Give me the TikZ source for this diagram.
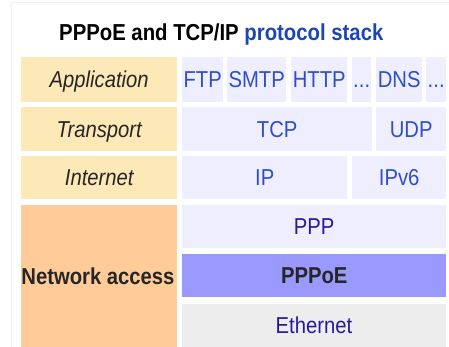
\documentclass[tikz,border=0pt]{standalone}
\usepackage{fontspec}
\setmainfont[FakeStretch=0.88]{Liberation Sans}
\definecolor{layerA}{HTML}{FDE9B8}
\definecolor{layerN}{HTML}{FFCB98}
\definecolor{protoBg}{HTML}{EEEEFE}
\definecolor{pppoeBg}{HTML}{9999FE}
\definecolor{ethBg}{HTML}{EDEDED}
\definecolor{linkBlue}{HTML}{2F4FC8}
\definecolor{visited}{HTML}{2A1A9A}
\definecolor{titleBlue}{HTML}{1C46B4}
\definecolor{frameGray}{HTML}{F2F2F2}
\newcommand{\cellfont}{\fontsize{23}{27}\selectfont}
\tikzset{
  cell/.style={inner sep=0pt, text height=16.5pt, text depth=0pt, font=\cellfont},
  layer/.style={cell, fill=layerA, text=black!85, font=\cellfont\itshape},
  proto/.style={cell, fill=protoBg, text=linkBlue},
}
% box from left/top/right/bottom in px (y measured downward)
\newcommand{\cellbox}[7]{%
  \node[#1, minimum width=#4pt-#2pt, minimum height=#5pt-#3pt, anchor=north west]
    (#6) at (#2pt,-#3pt) {#7};}
\newcommand{\dotrow}{.\kern0.2pt.\kern0.2pt.}
\begin{document}
\begin{tikzpicture}[x=1pt,y=1pt]
\useasboundingbox (0,0) rectangle (449pt,-347pt);
\begin{scope}
\clip (0,0) rectangle (449pt,-347pt);
% faint table frame
\draw[frameGray, line width=0.8pt] (11pt,-350pt) -- (11pt,-2.5pt) -- (452pt,-2.5pt);
% title
\node[anchor=base west, inner sep=0pt, font=\fontsize{23.1}{27}\selectfont\bfseries] (title)
  at (59pt,-40.5pt) {PPPoE and TCP/IP \textcolor{titleBlue}{protocol stack}};
% layer column
\cellbox{layer}{21}{57}{177}{102}{app}{Application}
\cellbox{layer}{21}{107}{177}{151}{trans}{Transport}
\cellbox{layer}{21}{156}{177}{199}{inet}{Internet}
\cellbox{cell, fill=layerN}{21}{205}{177}{360}{netacc}{}
\node[cell, text=black!85, font=\cellfont\bfseries] (netlbl) at (98pt,-276pt) {Network access};
% application protocols
\cellbox{proto}{182}{57}{223}{102}{ftp}{FTP}
\cellbox{proto}{227}{57}{286}{102}{smtp}{SMTP}
\cellbox{proto}{291}{57}{347}{102}{http}{HTTP}
\cellbox{proto}{352}{57}{371}{102}{dotsA}{\dotrow}
\cellbox{proto}{376}{57}{422}{102}{dns}{DNS}
\cellbox{proto}{426}{57}{446}{102}{dotsB}{\dotrow}
% transport protocols
\cellbox{proto}{182}{107}{372}{151}{tcp}{TCP}
\cellbox{proto}{376}{107}{446}{151}{udp}{UDP}
% internet protocols
\cellbox{proto}{182}{156}{347}{199}{ip}{IP}
\cellbox{proto}{352}{156}{446}{199}{ipv6}{IPv6}
% network access protocols
\cellbox{proto, text=visited}{182}{205}{446}{248}{ppp}{PPP}
\cellbox{cell, fill=pppoeBg, text=black!85, font=\cellfont\bfseries}{182}{254}{446}{297}{pppoe}{PPPoE}
\cellbox{cell, fill=ethBg}{182}{304}{446}{360}{ethfill}{}
\node[cell, text=visited] (eth) at (314pt,-325pt) {Ethernet};
\end{scope}
\end{tikzpicture}
\end{document}
